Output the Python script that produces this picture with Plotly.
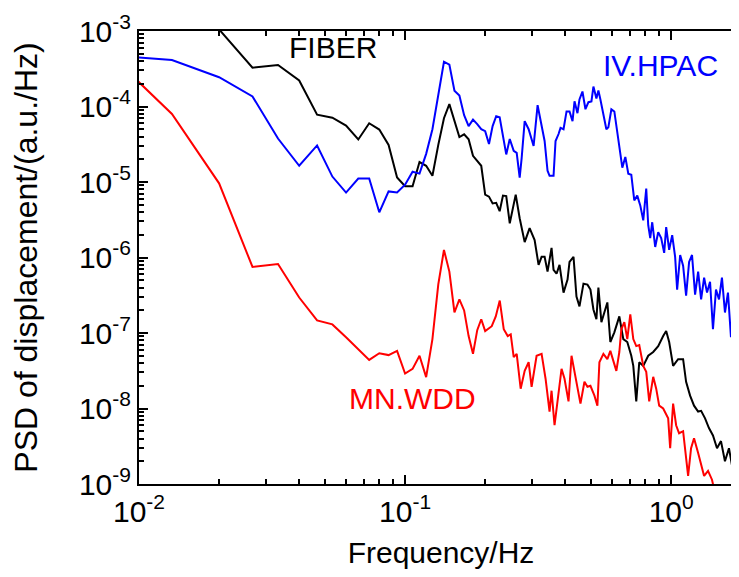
import math
import plotly.graph_objects as go

# PSD curves (frequency in Hz, PSD in a.u./Hz)
red_f = [0.00667, 0.0133, 0.02, 0.0267, 0.0333, 0.04, 0.0467, 0.0533, 0.06, 0.0667,
         0.0733, 0.08, 0.0867, 0.0933, 0.1, 0.1067, 0.1133, 0.12, 0.1267, 0.1333,
         0.14, 0.1467, 0.1533, 0.16, 0.1667, 0.1733, 0.18, 0.1867, 0.1933, 0.2,
         0.2117, 0.2192, 0.2269, 0.2349, 0.2431, 0.2495, 0.256, 0.2627, 0.2719, 0.2815,
         0.2913, 0.2989, 0.3121, 0.3259, 0.3373, 0.3491, 0.3552, 0.3645, 0.3741, 0.3873,
         0.3974, 0.4114, 0.4222, 0.4333, 0.4445, 0.4562, 0.4722, 0.4846, 0.4973, 0.5148,
         0.5282, 0.5374, 0.5563, 0.5757, 0.5908, 0.6064, 0.6223, 0.6386, 0.6497, 0.6668,
         0.6842, 0.7021, 0.7206, 0.7394, 0.7588, 0.7855, 0.806, 0.8271, 0.8562, 0.8786,
         0.9016, 0.9333, 0.9745, 0.9914, 1.017, 1.044, 1.071, 1.109, 1.138, 1.158,
         1.188, 1.219, 1.263, 1.296, 1.33, 1.376, 1.424, 1.474, 1.526]
red_psd = [8.3e-4, 7.95e-5, 9.6e-6, 7.5e-7, 8.2e-7, 2.95e-7, 1.47e-7, 1.3e-7, 8.8e-8, 6.1e-8,
           4.4e-8, 5.4e-8, 5.1e-8, 5.8e-8, 2.9e-8, 3.35e-8, 5.0e-8, 2.6e-8, 8.3e-8, 4.4e-7,
           1.26e-6, 6.5e-7, 1.87e-7, 2.78e-7, 1.99e-7, 9.1e-8, 5.3e-8, 1.09e-7, 1.52e-7, 1.06e-7,
           1.23e-7, 1.66e-7, 2.69e-7, 1.12e-7, 9.1e-8, 9.6e-8, 4.8e-8, 5.3e-8, 1.83e-8, 3.15e-8,
           4.1e-8, 1.94e-8, 5.0e-8, 5.3e-8, 2.48e-8, 9.1e-9, 1.72e-8, 6.0e-9, 1.35e-8, 3.35e-8,
           2.48e-8, 1.24e-8, 5.0e-8, 3.06e-8, 2.0e-8, 1.16e-8, 2.26e-8, 1.94e-8, 2.0e-8, 1.48e-8,
           1.09e-8, 4.1e-8, 5.3e-8, 4.5e-8, 5.8e-8, 4.3e-8, 3.15e-8, 5.6e-8, 1.12e-7, 1.39e-7,
           8.3e-8, 1.77e-7, 8.3e-8, 6.7e-8, 6.9e-8, 3.67e-8, 3.06e-8, 1.24e-8, 2.63e-8, 1.83e-8,
           1.09e-8, 1.0e-8, 7.4e-9, 2.98e-9, 1.16e-8, 6.0e-9, 4.7e-9, 5.0e-9, 2.2e-9, 1.28e-9,
           2.98e-9, 4.04e-9, 2.57e-9, 1.79e-9, 1.28e-9, 1.49e-9, 1.14e-9, 6.6e-10, 4.9e-10]

black_f = [0.0133, 0.02, 0.0267, 0.0333, 0.04, 0.0467, 0.0533, 0.06, 0.0667, 0.0733,
           0.08, 0.0867, 0.0933, 0.1, 0.1067, 0.1133, 0.12, 0.1267, 0.1333, 0.14,
           0.1467, 0.1533, 0.16, 0.1667, 0.1733, 0.18, 0.1867, 0.1933, 0.2, 0.2067,
           0.2133, 0.22, 0.2267, 0.2333, 0.24,
           0.2474, 0.2605, 0.2696, 0.2815, 0.2938, 0.3068, 0.3175, 0.3259, 0.3345, 0.3431,
           0.3552, 0.3614, 0.3709, 0.3806, 0.394, 0.4079, 0.415, 0.4296, 0.4407, 0.4523,
           0.4682, 0.4846, 0.4973, 0.5103, 0.5237, 0.5328, 0.5468, 0.5757, 0.5908, 0.6116,
           0.6386, 0.661, 0.6842, 0.7082, 0.7206, 0.7394, 0.7588, 0.7855, 0.82, 0.8562,
           0.8939, 0.9333, 0.9578, 0.9829, 1.017, 1.062, 1.109, 1.138, 1.178, 1.219,
           1.263, 1.296, 1.341, 1.387, 1.436, 1.487, 1.539, 1.593, 1.649, 1.707,
           1.752, 1.814, 1.877, 1.943]
black_psd = [2.0e-3, 1.05e-3, 3.27e-4, 3.55e-4, 2.21e-4, 7.8e-5, 7.1e-5, 5.6e-5, 3.66e-5, 6.0e-5,
             4.95e-5, 3.1e-5, 1.15e-5, 8.8e-6, 8.8e-6, 1.84e-5, 1.64e-5, 1.21e-5, 3.1e-5, 7.0e-5,
             1.075e-4, 6.4e-5, 3.94e-5, 4.28e-5, 3.68e-5, 2.22e-5, 1.91e-5, 1.64e-5, 6.8e-6, 6.4e-6,
             5.2e-6, 5.3e-6, 4.1e-6, 6.6e-6, 6.5e-6,
             2.84e-6, 6.8e-6, 3.31e-6, 1.6e-6, 2.45e-6, 1.7e-6, 8.0e-7, 1.02e-6, 1.02e-6, 6.5e-7,
             1.34e-6, 6.85e-7, 6.1e-7, 8.0e-7, 3.43e-7, 5.1e-7, 8.75e-7, 1.02e-6, 3.04e-7, 2.25e-7,
             4.5e-7, 4.37e-7, 3.76e-7, 2.05e-7, 1.52e-7, 4.0e-7, 1.39e-7, 2.54e-7, 7.6e-8, 1.02e-7,
             1.66e-7, 8.3e-8, 7.6e-8, 5.0e-8, 3.67e-8, 1.24e-8, 4.1e-8, 3.67e-8, 5.0e-8, 5.6e-8,
             6.7e-8, 9.1e-8, 1.06e-7, 7.6e-8, 3.67e-8, 4.5e-8, 4.5e-8, 2.26e-8, 1.48e-8, 1.09e-8,
             9.1e-9, 9.3e-9, 7.4e-9, 5.5e-9, 4.4e-9, 2.98e-9, 3.7e-9, 2.0e-9, 2.98e-9, 1.49e-9,
             2.0e-9, 1.32e-9, 1.79e-9, 1.2e-9]

blue_f = [0.00667, 0.0133, 0.02, 0.0267, 0.0333, 0.04, 0.0467, 0.0533, 0.06, 0.0667,
          0.0733, 0.08, 0.0867, 0.0933, 0.1, 0.1067, 0.1133, 0.12, 0.1267, 0.1333,
          0.14, 0.1467, 0.1533, 0.16, 0.1667, 0.1733, 0.18, 0.1867, 0.1933, 0.2,
          0.2067, 0.2133, 0.22, 0.2267, 0.2333, 0.24,
          0.2474, 0.256, 0.2627, 0.2696, 0.2743, 0.2815, 0.2913, 0.2989, 0.3041, 0.3148,
          0.3259, 0.3345, 0.3431, 0.3491, 0.3614, 0.3677, 0.3774, 0.3839, 0.394, 0.4044,
          0.415, 0.4259, 0.4333, 0.4445, 0.4523, 0.4641, 0.4763, 0.4888, 0.5016, 0.5103,
          0.5237, 0.5328, 0.5421, 0.5563, 0.5708, 0.5807, 0.596, 0.6116, 0.6277, 0.6386,
          0.6553, 0.6726, 0.6901, 0.7082, 0.7268, 0.7458, 0.7654, 0.7855, 0.806, 0.82,
          0.8343, 0.8488, 0.8711, 0.8939, 0.9173, 0.9414, 0.9578, 0.9829, 1.009, 1.035,
          1.053, 1.081, 1.109, 1.138, 1.168, 1.198, 1.23, 1.263, 1.296, 1.33,
          1.364, 1.4, 1.436, 1.474, 1.513, 1.552, 1.593, 1.635, 1.678, 1.722,
          1.767, 1.814, 1.861, 1.91]
blue_psd = [5.0e-4, 4.13e-4, 2.44e-4, 1.36e-4, 3.77e-5, 1.64e-5, 3.05e-5, 1.18e-5, 7.25e-6, 1.11e-5,
            1.11e-5, 3.97e-6, 7.5e-6, 7.25e-6, 9.2e-6, 1.37e-5, 1.29e-5, 2.36e-5, 5.0e-5, 1.36e-4,
            3.92e-4, 3.58e-4, 1.62e-4, 1.4e-4, 7.66e-5, 5.5e-5, 6.7e-5, 5.84e-5, 5.0e-5, 4.72e-5,
            3.19e-5, 5.5e-5, 7.44e-5, 7.2e-5, 4.32e-5, 2.32e-5,
            3.71e-5, 2.58e-5, 2.43e-5, 1.14e-5, 2.09e-5, 6.4e-5, 5.0e-5, 3.83e-5, 3.0e-5, 1.04e-4,
            5.5e-5, 3.49e-5, 1.41e-5, 1.21e-5, 1.21e-5, 3.49e-5, 4.32e-5, 5.2e-5, 5.0e-5, 8.6e-5,
            8.6e-5, 6.4e-5, 1.17e-4, 8.15e-5, 1.24e-4, 1.58e-4, 9.2e-5, 1.14e-4, 1.17e-4, 1.84e-4,
            1.28e-4, 1.63e-4, 1.24e-4, 8.15e-5, 5.0e-5, 5.3e-5, 9.2e-5, 8.6e-5, 4.72e-5, 3.19e-5,
            1.55e-5, 2.15e-5, 1.29e-5, 1.25e-5, 5.7e-6, 6.6e-6, 4.9e-6, 3.11e-6, 8.2e-6, 2.68e-6,
            1.81e-6, 2.93e-6, 1.38e-6, 2.17e-6, 1.81e-6, 1.15e-6, 2.52e-6, 1.26e-6, 1.98e-6, 1.02e-6,
            3.76e-7, 1.08e-6, 7.77e-7, 3.13e-7, 8.75e-7, 1.08e-6, 3.23e-7, 6.5e-7, 2.78e-7, 5.4e-7,
            3.43e-7, 4.78e-7, 1.12e-7, 3.76e-7, 2.78e-7, 5.4e-7, 1.87e-7, 3.43e-7, 8.8e-8, 3.04e-7,
            1.52e-7, 6.7e-8, 1.02e-7, 8.3e-8]

# axis ticks
x_tickvals = [0.01, 0.1, 1]
x_ticktext = ['10<sup>-2</sup>', '10<sup>-1</sup>', '10<sup>0</sup>']
y_tickvals = [1e-9, 1e-8, 1e-7, 1e-6, 1e-5, 1e-4, 1e-3]
y_ticktext = ['10<sup>-9</sup>', '10<sup>-8</sup>', '10<sup>-7</sup>', '10<sup>-6</sup>',
              '10<sup>-5</sup>', '10<sup>-4</sup>', '10<sup>-3</sup>']

# labels placed next to each curve (x, y in data units)
labels = ['FIBER', 'IV.HPAC', 'MN.WDD']
label_x = [0.0538, 0.909, 0.107]
label_y = [6.0e-4, 3.48e-4, 1.35e-8]
label_colors = ['black', 'blue', 'red']

FONT = 'Liberation Sans, Arial, sans-serif'

fig = go.Figure()

fig.add_trace(go.Scatter(x=black_f, y=black_psd, mode='lines', name='FIBER',
                         line=dict(color='black', width=2)))
fig.add_trace(go.Scatter(x=red_f, y=red_psd, mode='lines', name='MN.WDD',
                         line=dict(color='red', width=2)))
fig.add_trace(go.Scatter(x=blue_f, y=blue_psd, mode='lines', name='IV.HPAC',
                         line=dict(color='blue', width=2)))

# log axes take annotation positions as log10 values
for txt, lx, ly, c in zip(labels, label_x, label_y, label_colors):
    fig.add_annotation(x=math.log10(lx), y=math.log10(ly), xref='x', yref='y',
                       text=txt, showarrow=False, xanchor='center', yanchor='middle',
                       font=dict(family=FONT, size=30, color=c))

fig.update_layout(
    width=739,
    height=577,
    margin=dict(l=131, r=2, t=19, b=101),
    plot_bgcolor='white',
    paper_bgcolor='white',
    showlegend=False,
    font=dict(family=FONT, size=30, color='black'),
    xaxis=dict(
        type='log',
        range=[-2, 0.27],
        tickmode='array',
        tickvals=x_tickvals,
        ticktext=x_ticktext,
        ticks='inside',
        ticklen=9,
        tickwidth=2,
        tickcolor='black',
        showline=True,
        linewidth=2,
        linecolor='black',
        mirror='ticks',
        showgrid=False,
        zeroline=False,
        ticklabeloverflow='allow',
        tickfont=dict(family=FONT, size=30),
        minor=dict(ticks='inside', ticklen=5, tickwidth=1.5, tickcolor='black',
                   dtick='D1', showgrid=False),
        title=dict(text='Frequency/Hz', font=dict(family=FONT, size=30), standoff=15),
    ),
    yaxis=dict(
        type='log',
        range=[-9, -3],
        tickmode='array',
        tickvals=y_tickvals,
        ticktext=y_ticktext,
        ticks='inside',
        ticklen=9,
        tickwidth=2,
        tickcolor='black',
        showline=True,
        linewidth=2,
        linecolor='black',
        mirror='ticks',
        showgrid=False,
        zeroline=False,
        ticklabeloverflow='allow',
        tickfont=dict(family=FONT, size=30),
        minor=dict(ticks='inside', ticklen=5, tickwidth=1.5, tickcolor='black',
                   dtick='D1', showgrid=False),
        title=dict(text='PSD of displacement/(a.u./Hz)', font=dict(family=FONT, size=32),
                   standoff=32),
    ),
)

fig.write_html('out.html')
